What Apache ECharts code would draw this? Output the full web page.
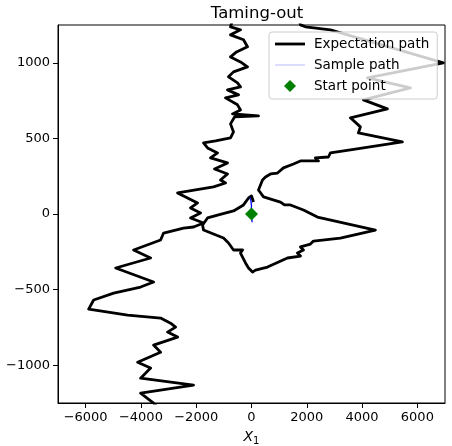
<!DOCTYPE html>
<html>
<head>
<meta charset="utf-8">
<title>Taming-out</title>
<script src="https://cdn.jsdelivr.net/npm/echarts@6/dist/echarts.min.js"></script>
<style>
  html, body { margin: 0; padding: 0; background: #fff; }
  #chart { width: 452px; height: 446px; }
</style>
</head>
<body>
<div id="chart"></div>
<script>
// expectation path, left branch (top edge down to bottom edge)
const leftPath = [
  [-687, 1284], [-759, 1238], [-398, 1218], [-759, 1185], [-289, 1152], [-145, 1106],
  [-542, 1072], [-759, 1039], [-398, 1006], [-145, 973], [-651, 940], [-831, 907],
  [-506, 867], [-398, 841], [-867, 821], [-470, 788], [-940, 768], [-506, 722],
  [-398, 688], [-687, 662], [253, 649], [-614, 642], [-759, 596], [-651, 543],
  [-759, 503], [-1301, 483], [-1735, 470], [-1590, 437], [-1229, 404], [-1482, 371],
  [-867, 338], [-1337, 298], [-867, 265], [-1120, 225], [-940, 205], [-1373, 179],
  [-2674, 139], [-2313, 106], [-1952, 73], [-2205, 40], [-1843, 7], [-2205, -26],
  [-1735, -60], [-2096, -86], [-2458, -93], [-3180, -126], [-3289, -172], [-4265, -238],
  [-3650, -291], [-4915, -357], [-3542, -450], [-4012, -483], [-4987, -523], [-5710, -569],
  [-5891, -629], [-4481, -669], [-3289, -688], [-2927, -722], [-2747, -748], [-3036, -781],
  [-2674, -814], [-3542, -867], [-3289, -914], [-4120, -980], [-3650, -1019], [-4012, -1086],
  [-2096, -1132], [-4012, -1185], [-3542, -1251], [-3289, -1298]
];

// expectation path, right loop (top edge round to the start)
const rightPath = [
  [1699, 1298], [1771, 1251], [1952, 1238], [2855, 1218], [6939, 1000], [4192, 900],
  [5746, 834], [4048, 755], [4915, 695], [3578, 636], [3939, 576], [3867, 536],
  [5457, 477], [3578, 424], [2855, 404], [2783, 377], [2313, 371], [2421, 351],
  [1771, 351], [1518, 331], [1156, 305], [940, 271], [687, 265], [506, 245],
  [398, 225], [325, 192], [253, 159], [434, 113], [1048, 79], [1193, 60],
  [1409, 60], [1879, 26], [2385, -20], [4481, -106], [3216, -159], [2241, -179],
  [2132, -199], [1771, -218], [1879, -238], [1662, -258], [1771, -278], [1301, -291],
  [578, -351], [145, -371], [36, -384], [-108, -357], [-217, -324], [-398, -258],
  [-325, -238], [-651, -238], [-831, -192], [-1012, -159], [-1735, -106], [-1771, -73],
  [-1590, -26], [-1229, -7], [-651, 20], [-289, 60], [-108, 106], [0, 119], [72, 79]
];

const samplePath = [[-60, 110], [-20, 85], [0, 55], [-10, 30], [0, 0], [15, -30], [20, -55]];
const startPoint = [[0, 0]];

const xTicks = [-6000, -4000, -2000, 0, 2000, 4000, 6000];
const yTicks = [-1000, -500, 0, 500, 1000];

const minus = v => String(v).replace('-', '\u2212');
const font = 'DejaVu Sans';

const chart = echarts.init(document.getElementById('chart'));

chart.setOption({
  animation: false,
  textStyle: { fontFamily: font },
  title: {
    text: 'Taming-out',
    left: 252,
    textAlign: 'center',
    top: 0,
    textStyle: { fontSize: 16.5, fontWeight: 'normal', color: '#000', fontFamily: font }
  },
  grid: {
    left: 58, right: 7, top: 25, bottom: 43,
    containLabel: false,
    outerBoundsMode: 'none',
    show: true, borderColor: '#000', borderWidth: 1, backgroundColor: 'transparent'
  },
  legend: {
    data: [
      { name: 'Expectation path', icon: 'path://M0,0H30V2.8H0Z' },
      { name: 'Sample path', icon: 'path://M0,0H30V1.4H0Z' },
      { name: 'Start point', icon: 'path://M5,0L10,5L5,10L0,5Z' }
    ],
    orient: 'vertical',
    left: 269,
    top: 32,
    padding: [5, 8, 6, 6],
    itemWidth: 30,
    itemHeight: 12,
    itemGap: 7,
    backgroundColor: 'rgba(255,255,255,0.8)',
    borderColor: '#cccccc',
    borderWidth: 1,
    borderRadius: 3,
    textStyle: { fontSize: 13.5, color: '#000', fontFamily: font, padding: [0, 0, 0, 4] }
  },
  xAxis: {
    type: 'value',
    min: -7000,
    max: 7000,
    name: '{i|X}{s|1}',
    nameLocation: 'middle',
    nameGap: 25,
    nameTextStyle: {
      rich: {
        i: { fontSize: 14, fontStyle: 'italic', color: '#000', fontFamily: font },
        s: { fontSize: 10, color: '#000', fontFamily: font, padding: [8, 0, 0, 0] }
      }
    },
    axisLine: { show: true, onZero: false, lineStyle: { color: '#000', width: 1 } },
    axisTick: { show: true, length: 5, lineStyle: { color: '#000' }, customValues: xTicks },
    axisLabel: { color: '#000', fontSize: 13, margin: 8, customValues: xTicks, formatter: minus },
    splitLine: { show: false }
  },
  yAxis: {
    type: 'value',
    min: -1250,
    max: 1250,
    axisLine: { show: true, onZero: false, lineStyle: { color: '#000', width: 1 } },
    axisTick: { show: true, length: 5, lineStyle: { color: '#000' }, customValues: yTicks },
    axisLabel: { color: '#000', fontSize: 13, margin: 8, customValues: yTicks, formatter: minus },
    splitLine: { show: false }
  },
  series: [
    {
      name: 'Sample path',
      type: 'line',
      data: samplePath,
      showSymbol: false,
      symbol: 'none',
      lineStyle: { color: 'rgba(0,0,255,0.2)', width: 1.4 },
      itemStyle: { color: 'rgba(0,0,255,0.2)' },
      z: 1
    },
    {
      name: 'Expectation path',
      type: 'line',
      data: leftPath,
      showSymbol: false,
      symbol: 'none',
      lineStyle: { color: '#000', width: 2.8, join: 'round' },
      itemStyle: { color: '#000' },
      z: 2
    },
    {
      name: 'Expectation path',
      type: 'line',
      data: rightPath,
      showSymbol: false,
      symbol: 'none',
      lineStyle: { color: '#000', width: 2.8, join: 'round' },
      itemStyle: { color: '#000' },
      z: 2
    },
    {
      type: 'line',
      data: samplePath,
      showSymbol: false,
      symbol: 'none',
      lineStyle: { color: '#0000ff', width: 1.2 },
      z: 3
    },
    {
      name: 'Start point',
      type: 'scatter',
      data: startPoint,
      symbol: 'diamond',
      symbolSize: 13,
      itemStyle: { color: '#008000', opacity: 1 },
      z: 4
    }
  ]
});
</script>
</body>
</html>
